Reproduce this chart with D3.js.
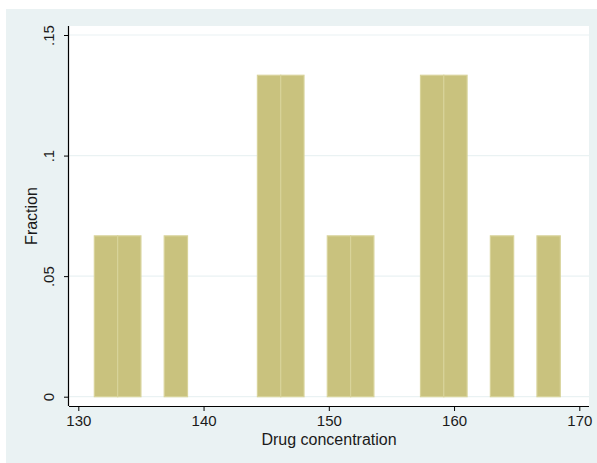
<!DOCTYPE html>
<html>
<head>
<meta charset="utf-8">
<script src="https://cdn.jsdelivr.net/npm/d3@7"></script>
<style>
  html, body { margin: 0; padding: 0; background: #ffffff; }
  svg { display: block; }
  text { font-family: "Liberation Sans", Arial, sans-serif; fill: #1a1a1a; }
</style>
</head>
<body>
<svg id="chart" width="597" height="463"></svg>
<script>
// Histogram bins (lower edges, upper edges) and fractions
const binLow  = [131.28, 133.14, 135.00, 136.86, 138.72, 140.58, 142.44, 144.30, 146.16, 148.02,
                 149.88, 151.74, 153.60, 155.46, 157.32, 159.18, 161.04, 162.90, 164.76, 166.62];
const binHigh = [133.14, 135.00, 136.86, 138.72, 140.58, 142.44, 144.30, 146.16, 148.02, 149.88,
                 151.74, 153.60, 155.46, 157.32, 159.18, 161.04, 162.90, 164.76, 166.62, 168.48];
const fraction = [0.0667, 0.0667, 0, 0.0667, 0, 0, 0, 0.1333, 0.1333, 0,
                  0.0667, 0.0667, 0, 0, 0.1333, 0.1333, 0, 0.0667, 0, 0.0667];
const xTicks = [130, 140, 150, 160, 170];
const yTicks = [0, 0.05, 0.10, 0.15];
const yTickLabels = ["0", ".05", ".1", ".15"];
const xTitle = "Drug concentration";
const yTitle = "Fraction";

const svg = d3.select("#chart");

// outer background
svg.append("rect").attr("x", 6).attr("y", 9).attr("width", 591).attr("height", 454)
  .attr("fill", "#eaf2f3");

const plot = {left: 69, right: 589, top: 26, bottom: 406};
svg.append("rect").attr("x", plot.left).attr("y", plot.top)
  .attr("width", plot.right - plot.left).attr("height", plot.bottom - plot.top)
  .attr("fill", "#ffffff");

const x = d3.scaleLinear().domain([130, 170]).range([78.3, 579.3]);
const y = d3.scaleLinear().domain([0, 0.15]).range([396.7, 35]);

// gridlines
svg.append("g").selectAll("line").data(yTicks).join("line")
  .attr("x1", plot.left).attr("x2", plot.right)
  .attr("y1", d => y(d)).attr("y2", d => y(d))
  .attr("stroke", "#eaf2f3").attr("stroke-width", 1.2);

// bars
const bins = binLow.map((lo, i) => ({lo, hi: binHigh[i], f: fraction[i]})).filter(d => d.f > 0);
svg.append("g").selectAll("rect").data(bins).join("rect")
  .attr("x", d => x(d.lo))
  .attr("width", d => x(d.hi) - x(d.lo))
  .attr("y", d => y(d.f))
  .attr("height", d => y(0) - y(d.f))
  .attr("fill", "#c9c27e")
  .attr("stroke", "#d8d39a")
  .attr("stroke-width", 1.2);

// x axis
const xAxis = d3.axisBottom(x).tickValues(xTicks).tickSize(5).tickPadding(4).tickFormat(d3.format("d"));
const gx = svg.append("g").attr("transform", `translate(0,${plot.bottom})`).call(xAxis);
gx.select(".domain").attr("d", `M${plot.left},0.5H${plot.right}`).attr("stroke", "#000").attr("stroke-width", 1.2);
gx.selectAll(".tick line").attr("stroke", "#000");
gx.selectAll(".tick text").attr("font-size", 15).attr("font-family", "Liberation Sans, Arial, sans-serif").attr("fill", "#1a1a1a");

// y axis
const yAxis = d3.axisLeft(y).tickValues(yTicks).tickSize(5).tickPadding(4)
  .tickFormat((d, i) => yTickLabels[i]);
const gy = svg.append("g").attr("transform", `translate(${plot.left},0)`).call(yAxis);
gy.select(".domain").attr("d", `M-0.5,${plot.top}V${plot.bottom}`).attr("stroke", "#000").attr("stroke-width", 1.2);
gy.selectAll(".tick line").attr("stroke", "#000");
gy.selectAll(".tick text")
  .attr("font-size", 15).attr("font-family", "Liberation Sans, Arial, sans-serif").attr("fill", "#1a1a1a")
  .attr("x", null).attr("dy", null)
  .attr("text-anchor", "middle")
  .attr("transform", "translate(-15,0) rotate(-90)");

// titles
svg.append("text").attr("x", (plot.left + plot.right) / 2).attr("y", 445)
  .attr("text-anchor", "middle").attr("font-size", 16).text(xTitle);
svg.append("text").attr("transform", `translate(37,${(plot.top + plot.bottom) / 2}) rotate(-90)`)
  .attr("text-anchor", "middle").attr("font-size", 16).text(yTitle);
</script>
</body>
</html>
